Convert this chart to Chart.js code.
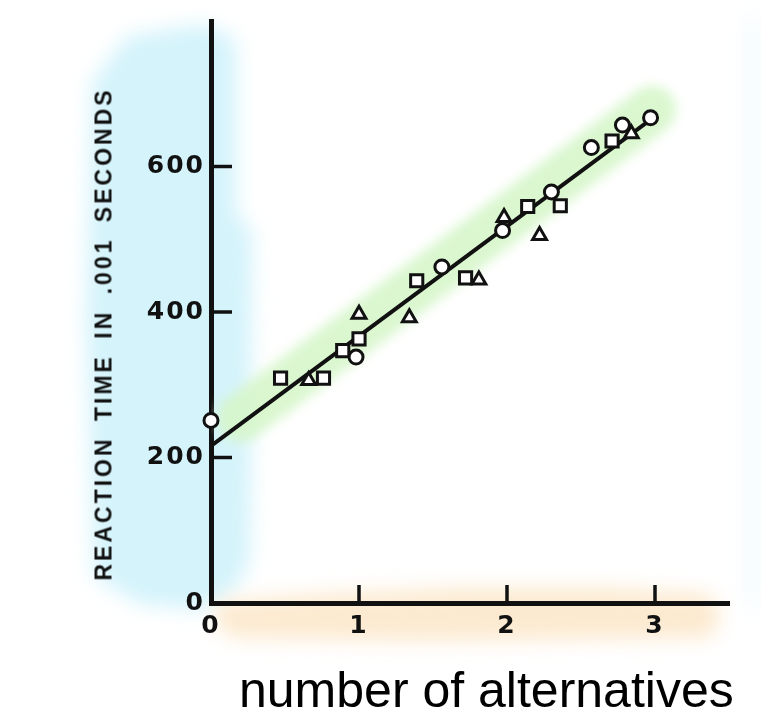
<!DOCTYPE html>
<html>
<head>
<meta charset="utf-8">
<script src="https://cdn.jsdelivr.net/npm/chart.js@4.4.1/dist/chart.umd.min.js"></script>
<style>
html,body{margin:0;padding:0;background:#fff;overflow:hidden;}
#wrap{position:relative;width:761px;height:711px;}
canvas{position:absolute;left:0;top:0;}
#ytitle{position:absolute;left:104px;top:334px;transform:translate(-50%,-50%) rotate(-90deg);font:bold 23px "Liberation Sans",Arial,sans-serif;letter-spacing:3px;word-spacing:6px;white-space:nowrap;color:#111;}
#xtitle{position:absolute;left:239px;top:665px;font:50px/50px "Liberation Sans",Arial,sans-serif;white-space:nowrap;color:#000;}
</style>
</head>
<body>
<div id="wrap">
<canvas id="c" width="761" height="711"></canvas>
<div id="ytitle"></div>
<div id="xtitle"></div>
</div>
<script>
// ---- data ----
const xTitle = "number of alternatives";
const yTitle = "REACTION TIME IN .001 SECONDS";

const xTickValues = [0, 1, 2, 3];
const yTickValues = [0, 200, 400, 600];

const circlesX = [0, 0.98, 1.56, 1.97, 2.30, 2.57, 2.78, 2.97];
const circlesY = [251, 338, 462, 512, 565, 626, 657, 667];

const squaresX = [0.47, 0.76, 0.89, 1.00, 1.39, 1.72, 2.14, 2.36, 2.71];
const squaresY = [309, 309, 347, 363, 443, 447, 545, 546, 635];

const trianglesX = [0.66, 1.00, 1.34, 1.81, 1.98, 2.22, 2.84];
const trianglesY = [306, 397, 392, 444, 530, 505, 645];

const fitX = [0, 3];
const fitY = [216, 669];

const bandX = [0.2, 2.98];
const bandY = [254, 678];

// ---- helpers ----
const pts = (xs, ys) => xs.map((x, i) => ({x, y: ys[i]}));

document.getElementById('xtitle').textContent = xTitle;
document.getElementById('ytitle').textContent = yTitle;

function poly(ctx, p, color){
  ctx.fillStyle = color;
  ctx.beginPath();
  ctx.moveTo(p[0][0], p[0][1]);
  for (let i = 1; i < p.length; i++) ctx.lineTo(p[i][0], p[i][1]);
  ctx.closePath();
  ctx.fill();
}

const washes = {
  id: 'washes',
  beforeDraw(chart){
    const ctx = chart.ctx;
    ctx.save();
    ctx.filter = 'blur(10px)';
    // left blue wash
    poly(ctx, [[92,82],[128,36],[205,24],[236,40],[236,215],[252,230],[250,560],[236,588],[205,610],[140,604],[94,576],[86,320]], 'rgb(212,243,251)');
    // faint right blue strip
    poly(ctx, [[747,20],[761,16],[761,610],[747,604]], 'rgb(240,251,254)');
    // bottom orange wash
    poly(ctx, [[216,602],[320,594],[460,588],[610,588],[710,594],[722,616],[710,638],[420,641],[234,638],[216,626]], 'rgb(252,234,208)');
    ctx.restore();
    ctx.letterSpacing = '2px';
  },
  afterDraw(chart){
    chart.ctx.letterSpacing = '0px';
  },
  beforeDatasetDraw(chart, args){
    if (chart.data.datasets[args.index].isBand){
      chart.ctx.save();
      chart.ctx.filter = 'blur(6px)';
    }
  },
  afterDatasetDraw(chart, args){
    if (chart.data.datasets[args.index].isBand){
      chart.ctx.restore();
    }
  }
};

const inwardTicks = {
  id: 'inwardTicks',
  afterDraw(chart){
    const {ctx, scales: {x, y}} = chart;
    ctx.save();
    ctx.strokeStyle = '#111';
    ctx.lineWidth = 3.5;
    yTickValues.filter(v => v > 0).forEach(v => {
      const py = y.getPixelForValue(v);
      ctx.beginPath(); ctx.moveTo(x.left, py); ctx.lineTo(x.left + 21, py); ctx.stroke();
    });
    xTickValues.filter(v => v > 0).forEach(v => {
      const px = x.getPixelForValue(v);
      ctx.beginPath(); ctx.moveTo(px, y.bottom); ctx.lineTo(px, y.bottom - 18); ctx.stroke();
    });
    ctx.restore();
  }
};

const markerBase = {
  showLine: false,
  backgroundColor: '#ffffff',
  borderColor: '#111111',
  pointBackgroundColor: '#ffffff',
  pointBorderColor: '#111111',
  pointBorderWidth: 3,
  pointHoverRadius: 0,
  clip: false,
  order: 1
};

new Chart(document.getElementById('c'), {
  type: 'scatter',
  data: {
    datasets: [
      {
        type: 'line', isBand: true, data: pts(bandX, bandY),
        borderColor: 'rgba(214,246,202,0.9)', borderWidth: 48, borderCapStyle: 'round',
        pointRadius: 0, fill: false, order: 10
      },
      {
        type: 'line', data: pts(fitX, fitY),
        borderColor: '#111111', borderWidth: 4, pointRadius: 0, fill: false, order: 5, clip: false
      },
      Object.assign({data: pts(circlesX, circlesY), pointStyle: 'circle', pointRadius: 7}, markerBase),
      Object.assign({data: pts(squaresX, squaresY), pointStyle: 'rect', pointRadius: 8.6}, markerBase),
      Object.assign({data: pts(trianglesX, trianglesY), pointStyle: 'triangle', pointRadius: 8}, markerBase)
    ]
  },
  options: {
    responsive: false,
    animation: false,
    events: [],
    devicePixelRatio: 1,
    layout: {padding: {top: 12, right: 32, left: 0, bottom: 0}},
    plugins: {legend: {display: false}, tooltip: {enabled: false}, title: {display: false}},
    scales: {
      x: {
        type: 'linear', min: 0, max: 3.5, position: 'bottom',
        afterFit: s => { s.height = 108; },
        grid: {display: false, drawTicks: false},
        border: {display: true, color: '#111', width: 5},
        ticks: {
          stepSize: 1, includeBounds: false, padding: 8, color: '#111',
          font: {family: '"DejaVu Sans"', weight: 'bold', size: 25},
          callback: v => xTickValues.includes(v) ? String(v) : ''
        }
      },
      y: {
        type: 'linear', min: 0, max: 800,
        afterFit: s => { s.width = 211; },
        grid: {display: false, drawTicks: false},
        border: {display: true, color: '#111', width: 5},
        ticks: {
          stepSize: 200, includeBounds: false, padding: 6, color: '#111',
          font: {family: '"DejaVu Sans"', weight: 'bold', size: 25},
          callback: v => yTickValues.includes(v) ? String(v) : ''
        }
      }
    }
  },
  plugins: [washes, inwardTicks]
});
</script>
</body>
</html>
